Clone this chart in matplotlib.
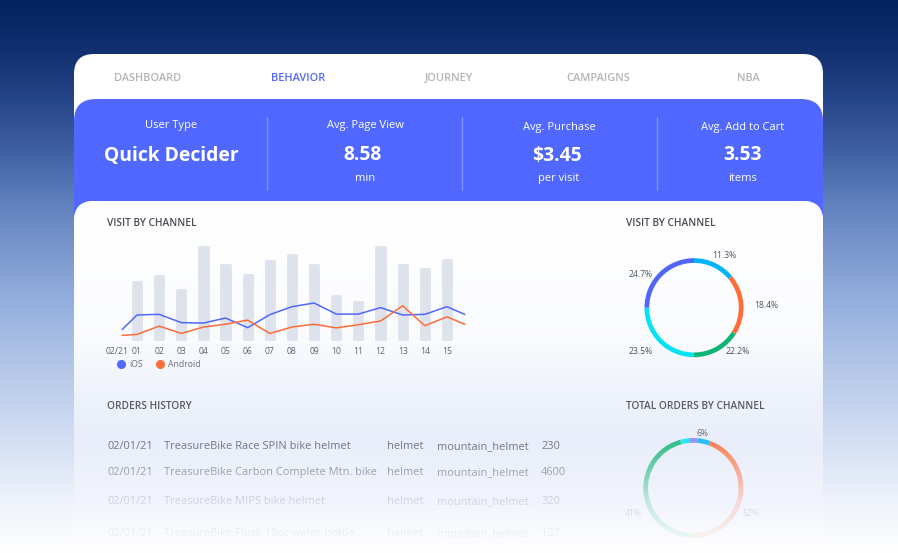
import numpy as np
import matplotlib
matplotlib.use("Agg")
import matplotlib.pyplot as plt
from matplotlib.patches import FancyBboxPatch
from matplotlib.colors import to_rgb

plt.rcParams['font.family'] = ['Open Sans', 'DejaVu Sans']

W, H = 898, 553

# --- data ---
nav_tabs = ["DASHBOARD", "BEHAVIOR", "JOURNEY", "CAMPAIGNS", "NBA"]

kpi_titles = ["User Type", "Avg. Page View", "Avg. Purchase", "Avg. Add to Cart"]
kpi_values = ["Quick Decider", "8.58", "$3.45", "3.53"]
kpi_units = ["", "min", "per visit", "items"]

days = ["01", "02", "03", "04", "05", "06", "07", "08", "09", "10", "11", "12", "13", "14", "15"]
visits = [62, 68, 53, 100, 80, 69.5, 84, 91, 80, 46.5, 40.5, 100, 80, 75.5, 86]
line_x = [0.34, 1, 2, 3, 4, 5, 6, 7, 8, 9, 10, 11, 12, 13, 14, 15, 15.8]
ios = [10.5, 26, 26.7, 17.7, 17.3, 22.7, 12.3, 26.4, 35, 39, 27, 27, 34, 26, 26.7, 35, 26.7]
android = [4, 5, 14, 6, 13, 16, 20.5, 6, 13, 16, 12, 15.5, 19.5, 36, 14.4, 24, 16]

channel_arcs = [14, 20, 16, 25, 25]
channel_labels = ["11.3%", "18.4%", "22.2%", "23.5%", "24.7%"]
channel_colors = ["#00b4f5", "#ff6c37", "#0cb573", "#05e3f2", "#5067f5"]

order_arcs = [4.2, 44.4, 45.8, 2.8, 2.8]
order_colors = ["#00b4f5", "#ff6c37", "#0cb573", "#05e3f2", "#7f86f2"]
order_labels = ["6%", "41%", "52%"]

order_dates = ["02/01/21", "02/01/21", "02/01/21", "02/01/21"]
order_names = ["TreasureBike Race SPIN bike helmet", "TreasureBike Carbon Complete Mtn. bike",
               "TreasureBike MIPS bike helmet", "TreasureBike Flusk 18oz water bottle"]
order_cats = ["helmet", "helmet", "helmet", "helmet"]
order_subcats = ["mountain_helmet", "mountain_helmet", "mountain_helmet", "mountain_helmet"]
order_qty = ["230", "4600", "320", "127"]

BLUE = "#5068ff"
GREY_TAB = "#b4b4b8"
DARK = "#4a4c58"


def column_image(stops):
    """Vertical colour ramp, stops = (y pixel, rgb or rgba)."""
    ys = np.arange(H)
    px = [s[0] for s in stops]
    cols = np.array([s[1] for s in stops], dtype=float)
    img = np.stack([np.interp(ys, px, cols[:, i]) for i in range(cols.shape[1])], axis=1)
    return img[:, None, :]


fig = plt.figure(figsize=(W / 100, H / 100), dpi=100)
bg = fig.add_axes([0, 0, 1, 1])
bg.set_xlim(0, W)
bg.set_ylim(H, 0)
bg.axis("off")

# page background
bg_stops = [(0, to_rgb("#03205f")), (50, to_rgb("#12306f")), (100, to_rgb("#26468a")),
            (150, to_rgb("#3f60a2")), (200, to_rgb("#5f80bd")), (250, to_rgb("#7b97cd")),
            (300, to_rgb("#94aede")), (370, to_rgb("#b5c8e8")), (430, to_rgb("#cfdcf3")),
            (500, to_rgb("#eef2fb")), (553, to_rgb("#ffffff"))]
bg.imshow(column_image(bg_stops), extent=(0, W, H, 0), aspect="auto", zorder=0)
bg.set_xlim(0, W)
bg.set_ylim(H, 0)


def round_box(x0, y0, x1, y1, r, color, z):
    p = FancyBboxPatch((x0 + r, y0 + r), x1 - x0 - 2 * r, y1 - y0 - 2 * r,
                       boxstyle=f"round,pad={r},rounding_size={r}",
                       fc=color, ec="none", zorder=z)
    bg.add_patch(p)
    return p


# cards
round_box(74, 54, 823, 640, 20, "white", 1)
round_box(74, 99, 823, 260, 22, BLUE, 2)
lower = round_box(74, 201, 823, 640, 20, "white", 3)
card_stops = [(201, (1, 1, 1)), (330, (0.985, 0.988, 0.996)), (390, to_rgb("#eff3fb")),
              (440, to_rgb("#e9eefa")), (500, to_rgb("#f1f4fc")), (553, (1, 1, 1))]
card_img = bg.imshow(column_image(card_stops), extent=(0, W, H, 0), aspect="auto", zorder=3.1)
card_img.set_clip_path(lower)
bg.set_xlim(0, W)
bg.set_ylim(H, 0)

# nav
for label, x in zip(nav_tabs, [148, 298, 449, 598, 748]):
    bg.text(x, 81, label, ha="center", va="baseline", fontsize=7.9, fontweight="semibold",
            color=BLUE if label == "BEHAVIOR" else GREY_TAB, zorder=4)

# kpi strip
for x in [267, 462, 656.5]:
    bg.plot([x, x], [117, 190], color="#7f92fb", lw=1, zorder=4)
title_y = [128, 128, 130, 130]
for t, v, u, xt, xv, ty in zip(kpi_titles, kpi_values, kpi_units,
                               [171, 365, 559, 743], [171, 363, 557, 742.7], title_y):
    bg.text(xt, ty, t, ha="center", va="baseline", fontsize=8.0, color="white", zorder=4)
    bg.text(xv, 160.5, v, ha="center", va="baseline", fontsize=13.9, fontweight="bold", color="white", zorder=4)
    if u:
        bg.text(xt, 181, u, ha="center", va="baseline", fontsize=8.0, color="white", zorder=4)

# section titles
for label, x, y in [("VISIT BY CHANNEL", 107, 226), ("VISIT BY CHANNEL", 626, 226),
                    ("ORDERS HISTORY", 107, 409), ("TOTAL ORDERS BY CHANNEL", 626, 409)]:
    bg.text(x, y, label, ha="left", va="baseline", fontsize=7.25, fontweight="semibold", color=DARK, zorder=4)

# orders table
row_y = [449, 475, 504, 536]
for i, y in enumerate(row_y):
    for x, col in zip([107, 164, 387, 437.5, 541],
                      [order_dates, order_names, order_cats, order_subcats, order_qty]):
        bg.text(x, y, col[i], ha="left", va="baseline", fontsize=7.9, color="#55586a", zorder=4)


def px_axes(x0, y0, x1, y1):
    a = fig.add_axes([x0 / W, 1 - y1 / H, (x1 - x0) / W, (y1 - y0) / H], zorder=2)
    a.patch.set_alpha(0)
    return a


# bar and line chart, 0-100 maps to y 339-246.7, index 1 to x 137
ax = px_axes(104, 246.7, 476, 339)
ax.set_xlim(1 + (104 - 137) / 22.14, 1 + (476 - 137) / 22.14)
ax.set_ylim(0, 100)
x_days = np.arange(1, len(days) + 1)
ax.bar(x_days, visits, width=0.37, color="#dde2ec", edgecolor="#dde2ec", linewidth=2,
       joinstyle="round", clip_on=False)
ax.plot(line_x, ios, color="#5068ff", lw=1.1, label="iOS")
ax.plot(line_x, android, color="#ff6c37", lw=1.1, label="Android")
for s in ax.spines.values():
    s.set_visible(False)
ax.set_xticks(np.r_[(117 - 137) / 22.14 + 1, x_days])
ax.set_xticklabels(["02/21"] + days, fontsize=6.2, color="#5f6270")
ax.tick_params(axis="x", length=0, pad=5.5)
ax.set_yticks([])
ax.legend(loc="upper left", bbox_to_anchor=(0.026, -0.145), ncol=2, frameon=False, fontsize=6.2,
          labelcolor="#6a6d7a", handlelength=0, handletextpad=0.9, columnspacing=2.0)
leg = ax.get_legend()
for h, c in zip(leg.legend_handles, ["#5068ff", "#ff6c37"]):
    h.set_marker("o")
    h.set_markersize(5.5)
    h.set_markerfacecolor(c)
    h.set_markeredgecolor(c)
    h.set_linestyle("none")


def donut(cx, cy, r, arcs, colors, start=90):
    a = px_axes(cx - r, cy - r, cx + r, cy + r)
    a.pie(arcs, colors=colors, startangle=start, counterclock=False, radius=1,
          wedgeprops=dict(width=0.095, linewidth=0))
    a.set_xlim(-1, 1)
    a.set_ylim(-1, 1)
    return a


donut(694, 307.7, 49.5, channel_arcs, channel_colors)
donut(693.3, 488, 50, order_arcs, order_colors, start=85)

label_pos = [(724, 255.5), (766.5, 305.5), (738, 351.5), (640.5, 351), (641, 274.5)]
for t, (x, y) in zip(channel_labels, label_pos):
    bg.text(x, y, t, ha="center", va="center", fontsize=6.2, color="#4f5260", zorder=4)
for t, (x, y) in zip(order_labels, [(702, 433.5), (633, 513.5), (751, 513.5)]):
    bg.text(x, y, t, ha="center", va="center", fontsize=6.2, color="#4f5260", zorder=4)

# fade over the lower part, same tint as the card
top = fig.add_axes([0, 0, 1, 1], zorder=10)
top.set_xlim(0, W)
top.set_ylim(H, 0)
top.axis("off")
alpha = np.interp(np.arange(H), [350, 400, 445, 471, 500, 532, 553], [0, 0.08, 0.2, 0.48, 0.8, 0.93, 1.0])
rgb = column_image(card_stops)
fade_card = np.concatenate([rgb, alpha[:, None, None]], axis=2)
top.imshow(fade_card, extent=(74, 823, H, 0), aspect="auto")
top.set_xlim(0, W)
top.set_ylim(H, 0)

fig.savefig("out.png", dpi=100)
